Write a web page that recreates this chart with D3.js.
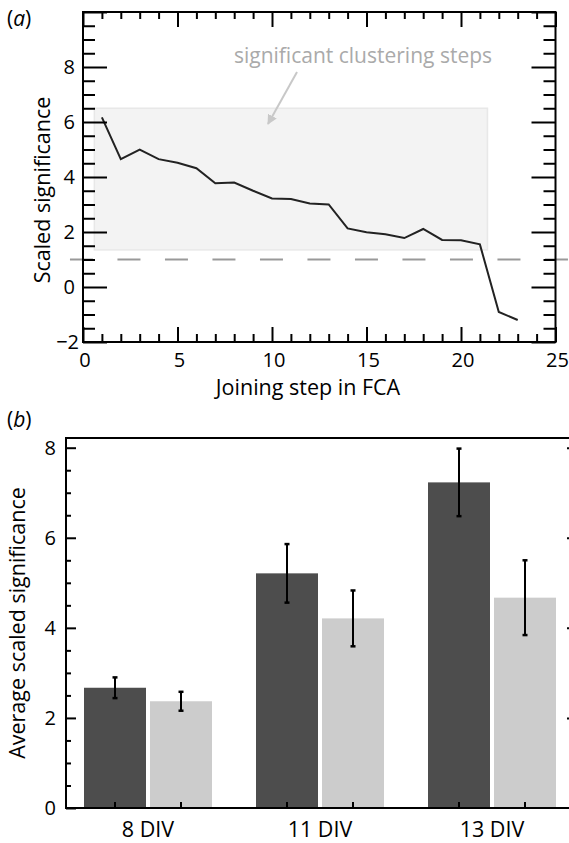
<!DOCTYPE html>
<html><head><meta charset="utf-8">
<script src="https://cdn.jsdelivr.net/npm/d3@7"></script>
<style>
html,body{margin:0;padding:0;background:#fff;}
svg{display:block;}
text{font-family:"Open Sans", Lato, sans-serif;fill:#000;}
</style></head>
<body>
<svg id="chart" width="569" height="843"></svg>
<script>
// ---------- Data: panel (a) ----------
const joinSteps = [1,2,3,4,5,6,7,8,9,10,11,12,13,14,15,16,17,18,19,20,21,22,23];
const scaledSig = [6.17,4.65,5.0,4.65,4.52,4.32,3.77,3.8,3.5,3.22,3.2,3.04,3.0,2.13,1.99,1.92,1.78,2.11,1.71,1.7,1.55,-0.91,-1.2];
const aXTicks = [0,5,10,15,20,25];
const aYTicks = [-2,0,2,4,6,8];
const threshold = 1;
const sigRegionX = [0.6, 21.4];
const sigRegionY = [1.35, 6.5];
const annotation = "significant clustering steps";

// ---------- Data: panel (b) ----------
const categories = ["8 DIV","11 DIV","13 DIV"];
const seriesNames = ["dark","light"];
const darkValues = [2.67, 5.21, 7.23];
const darkErrors = [0.23, 0.65, 0.75];
const lightValues = [2.37, 4.21, 4.67];
const lightErrors = [0.21, 0.62, 0.83];
const bYTicks = [0,2,4,6,8];

const svg = d3.select("#chart");
const TICKFS = 20;
const TITLEFS = 21.5;

// ================= Panel (a) =================
const ax = d3.scaleLinear().domain([0,25]).range([83,555.5]);
const ay = d3.scaleLinear().domain([-2,10]).range([342,12]);
const gA = svg.append("g");

// shaded region
gA.append("rect")
  .attr("x", ax(sigRegionX[0])).attr("y", ay(sigRegionY[1]))
  .attr("width", ax(sigRegionX[1]) - ax(sigRegionX[0]))
  .attr("height", ay(sigRegionY[0]) - ay(sigRegionY[1]))
  .attr("fill", "#f3f3f3").attr("stroke", "#e8e8e8").attr("stroke-width", 1.5);

// threshold dashed line (extends beyond frame)
gA.append("line")
  .attr("x1", ax(-0.69)).attr("x2", ax(25.8))
  .attr("y1", ay(threshold)).attr("y2", ay(threshold))
  .attr("stroke", "#999").attr("stroke-width", 2).attr("stroke-dasharray", "23,24.5");

// line
const line = d3.line().x((d,i)=>ax(joinSteps[i])).y(d=>ay(d));
gA.append("path").datum(scaledSig).attr("d", line)
  .attr("fill","none").attr("stroke","#222").attr("stroke-width",2).attr("stroke-linejoin","miter");

// axes ticks (inward on all four sides)
function axisTicks(g, axisFn, scale, values, size){
  const a = axisFn(scale).tickValues(values).tickSize(size).tickFormat("");
  g.call(a);
  g.select(".domain").remove();
  g.selectAll(".tick line").attr("stroke","#000").attr("stroke-width",2);
}
const range = (a,b,s)=>d3.range(a, b+1e-9, s);
const aMinorX = range(0,25,1).filter(v=>v%5!==0);
const aMinorY = range(-2,10,0.5).filter(v=>v%2!==0);
const aMajorY = range(-2,10,2);

axisTicks(gA.append("g").attr("transform",`translate(0,${ay(-2)})`), d3.axisBottom, ax, aMinorX, -8);
axisTicks(gA.append("g").attr("transform",`translate(0,${ay(-2)})`), d3.axisBottom, ax, aXTicks, -15);
axisTicks(gA.append("g").attr("transform",`translate(0,${ay(10)})`), d3.axisTop, ax, aMinorX, -7);
axisTicks(gA.append("g").attr("transform",`translate(0,${ay(10)})`), d3.axisTop, ax, aXTicks, -15);
axisTicks(gA.append("g").attr("transform",`translate(${ax(0)},0)`), d3.axisLeft, ay, aMinorY, -12);
axisTicks(gA.append("g").attr("transform",`translate(${ax(0)},0)`), d3.axisLeft, ay, aMajorY, -24);
axisTicks(gA.append("g").attr("transform",`translate(${ax(25)},0)`), d3.axisRight, ay, aMinorY, -12);
axisTicks(gA.append("g").attr("transform",`translate(${ax(25)},0)`), d3.axisRight, ay, aMajorY, -24);

// frame
gA.append("rect").attr("x",ax(0)).attr("y",ay(10)).attr("width",ax(25)-ax(0)).attr("height",ay(-2)-ay(10))
  .attr("fill","none").attr("stroke","#000").attr("stroke-width",2);

// tick labels
gA.selectAll(".xl").data(aXTicks).enter().append("text")
  .attr("x", d=>ax(d)+2).attr("y", 367).attr("text-anchor","middle").attr("font-size",TICKFS).text(d=>d);
gA.selectAll(".yl").data(aYTicks).enter().append("text")
  .attr("x", d=> d<0 ? 79 : 75).attr("y", d=>ay(d)+7).attr("text-anchor","end").attr("font-size",TICKFS)
  .text(d=> d<0 ? "\u2212"+Math.abs(d) : d);

// axis titles
gA.append("text").attr("x",308).attr("y",395).attr("text-anchor","middle").attr("font-size",TITLEFS).text("Joining step in FCA");
gA.append("text").attr("transform","translate(50,190) rotate(-90)").attr("text-anchor","middle").attr("font-size",TITLEFS).text("Scaled significance");

// annotation
gA.append("text").attr("x",363).attr("y",63).attr("text-anchor","middle").attr("font-size",21)
  .style("fill","#aaa").text(annotation);
const defs = svg.append("defs");
defs.append("marker").attr("id","arr").attr("viewBox","0 0 10 10").attr("refX",9).attr("refY",5)
  .attr("markerWidth",5).attr("markerHeight",5).attr("orient","auto")
  .append("path").attr("d","M0,0 L10,5 L0,10 Z").attr("fill","#c8c8c8");
gA.append("line").attr("x1",297).attr("y1",72).attr("x2",268).attr("y2",124)
  .attr("stroke","#c8c8c8").attr("stroke-width",2).attr("marker-end","url(#arr)");

// panel label
const la = gA.append("text").attr("x",7).attr("y",26).attr("font-size",21);
la.append("tspan").text("(");
la.append("tspan").attr("font-style","italic").text("a");
la.append("tspan").text(")");

// ================= Panel (b) =================
const by = d3.scaleLinear().domain([0,8]).range([808,447.7]);
const bx = d3.scaleBand().domain(categories).range([66,574]).paddingInner(44/172).paddingOuter(18/172);
const bsub = d3.scaleBand().domain(seriesNames).range([0,bx.bandwidth()]).paddingInner(4/66);
const colors = {dark:"#4d4d4d", light:"#cccccc"};
const gB = svg.append("g");
const bTop = 8.215;
const bRight = 571;

const barData = [];
categories.forEach((c,i)=>{
  barData.push({cat:c, s:"dark", v:darkValues[i], e:darkErrors[i]});
  barData.push({cat:c, s:"light", v:lightValues[i], e:lightErrors[i]});
});

gB.selectAll(".bar").data(barData).enter().append("rect")
  .attr("x", d=>bx(d.cat)+bsub(d.s)).attr("width", bsub.bandwidth())
  .attr("y", d=>by(d.v)).attr("height", d=>by(0)-by(d.v))
  .attr("fill", d=>colors[d.s]);

// error bars
const cx = d=>bx(d.cat)+bsub(d.s)+bsub.bandwidth()/2;
const eb = gB.selectAll(".eb").data(barData).enter().append("g");
eb.append("line").attr("x1",cx).attr("x2",cx).attr("y1",d=>by(d.v+d.e)).attr("y2",d=>by(d.v-d.e))
  .attr("stroke","#000").attr("stroke-width",2);
eb.append("line").attr("x1",d=>cx(d)-2.5).attr("x2",d=>cx(d)+2.5).attr("y1",d=>by(d.v+d.e)).attr("y2",d=>by(d.v+d.e))
  .attr("stroke","#000").attr("stroke-width",2.5);
eb.append("line").attr("x1",d=>cx(d)-2.5).attr("x2",d=>cx(d)+2.5).attr("y1",d=>by(d.v-d.e)).attr("y2",d=>by(d.v-d.e))
  .attr("stroke","#000").attr("stroke-width",2.5);

// left axis ticks
const bMinorY = range(0,8,0.5).filter(v=>v%2!==0);
axisTicks(gB.append("g").attr("transform","translate(66,0)"), d3.axisLeft, by, bMinorY, -5);
axisTicks(gB.append("g").attr("transform","translate(66,0)"), d3.axisLeft, by, bYTicks, -10);
axisTicks(gB.append("g").attr("transform",`translate(${bRight},0)`), d3.axisRight, by, bYTicks.filter(v=>v>0), -4);

// bottom ticks at bar centers
gB.selectAll(".bt").data(barData).enter().append("line")
  .attr("x1",cx).attr("x2",cx).attr("y1",by(0)).attr("y2",by(0)-6)
  .attr("stroke","#000").attr("stroke-width",2);

// frame lines
gB.append("line").attr("x1",66).attr("x2",66).attr("y1",by(bTop)).attr("y2",by(0)+1).attr("stroke","#000").attr("stroke-width",2);
gB.append("line").attr("x1",65).attr("x2",bRight).attr("y1",by(0)).attr("y2",by(0)).attr("stroke","#000").attr("stroke-width",2);
gB.append("line").attr("x1",65).attr("x2",bRight).attr("y1",by(bTop)).attr("y2",by(bTop)).attr("stroke","#000").attr("stroke-width",2);
gB.append("line").attr("x1",bRight).attr("x2",bRight).attr("y1",by(bTop)).attr("y2",by(0)).attr("stroke","#000").attr("stroke-width",2);

// labels
gB.selectAll(".yl").data(bYTicks).enter().append("text")
  .attr("x",56).attr("y",d=>by(d)+7).attr("text-anchor","end").attr("font-size",TICKFS).text(d=>d);
gB.selectAll(".xl").data(categories).enter().append("text")
  .attr("x",d=>bx(d)+bx.bandwidth()/2).attr("y",837).attr("text-anchor","middle").attr("font-size",TITLEFS).text(d=>d);
gB.append("text").attr("transform",`translate(25,${(by(0)+by(bTop))/2}) rotate(-90)`).attr("text-anchor","middle")
  .attr("font-size",TITLEFS).text("Average scaled significance");

const lb = gB.append("text").attr("x",7).attr("y",427).attr("font-size",21);
lb.append("tspan").text("(");
lb.append("tspan").attr("font-style","italic").text("b");
lb.append("tspan").text(")");
</script>
</body></html>
